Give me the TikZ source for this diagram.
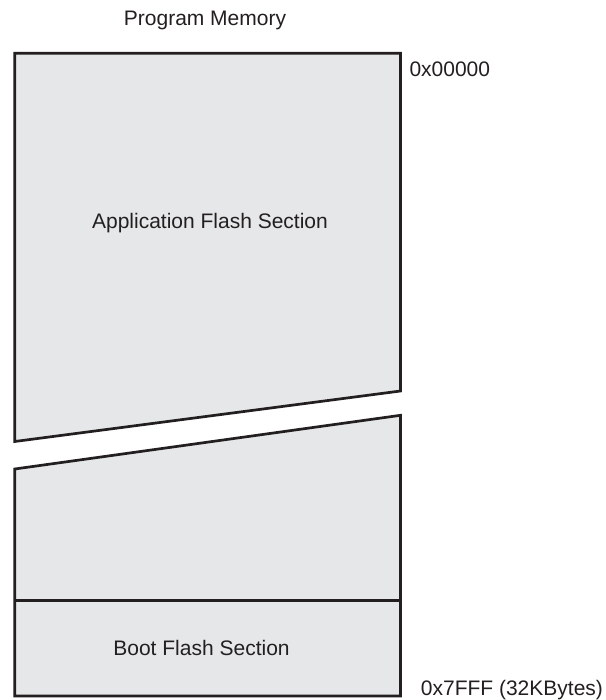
\documentclass[tikz,border=0pt]{standalone}
\usepackage{fontspec}
\setmainfont{Liberation Sans}
\definecolor{memfill}{HTML}{E6E7E8}
\definecolor{memline}{HTML}{231F20}
\begin{document}
\begin{tikzpicture}[x=1pt,y=-1pt,
  block/.style={draw=memline,fill=memfill,line width=2.7pt,line join=miter},
  lbl/.style={inner sep=0pt,text=memline,font=\fontsize{21}{25}\selectfont}]
\useasboundingbox (0,0) rectangle (605,700);
% upper part of the memory (application section)
\draw[block] (14.7,53.3) -- (400.5,53.3) -- (400.5,391) -- (14.7,441.5) -- cycle;
% lower part of the memory
\draw[block] (14.7,469) -- (400.5,415.3) -- (400.5,696) -- (14.7,696) -- cycle;
\coordinate (sepL) at (14.7,600.7);
\coordinate (sepR) at (400.5,600.7);
\draw[memline,line width=2.7pt] (sepL) -- (sepR);
% labels
\node[lbl,anchor=base] (title) at (205,26) {Program Memory};
\node[lbl,anchor=base] (app) at (210,229) {Application Flash Section};
\node[lbl,anchor=base] (boot) at (201.5,655.7) {Boot Flash Section};
\node[lbl,anchor=base west] (start) at (409.3,76.7) {0x00000};
\node[lbl,anchor=base west] (end) at (420.7,695) {0x7FFF (32KBytes)};
\end{tikzpicture}
\end{document}
